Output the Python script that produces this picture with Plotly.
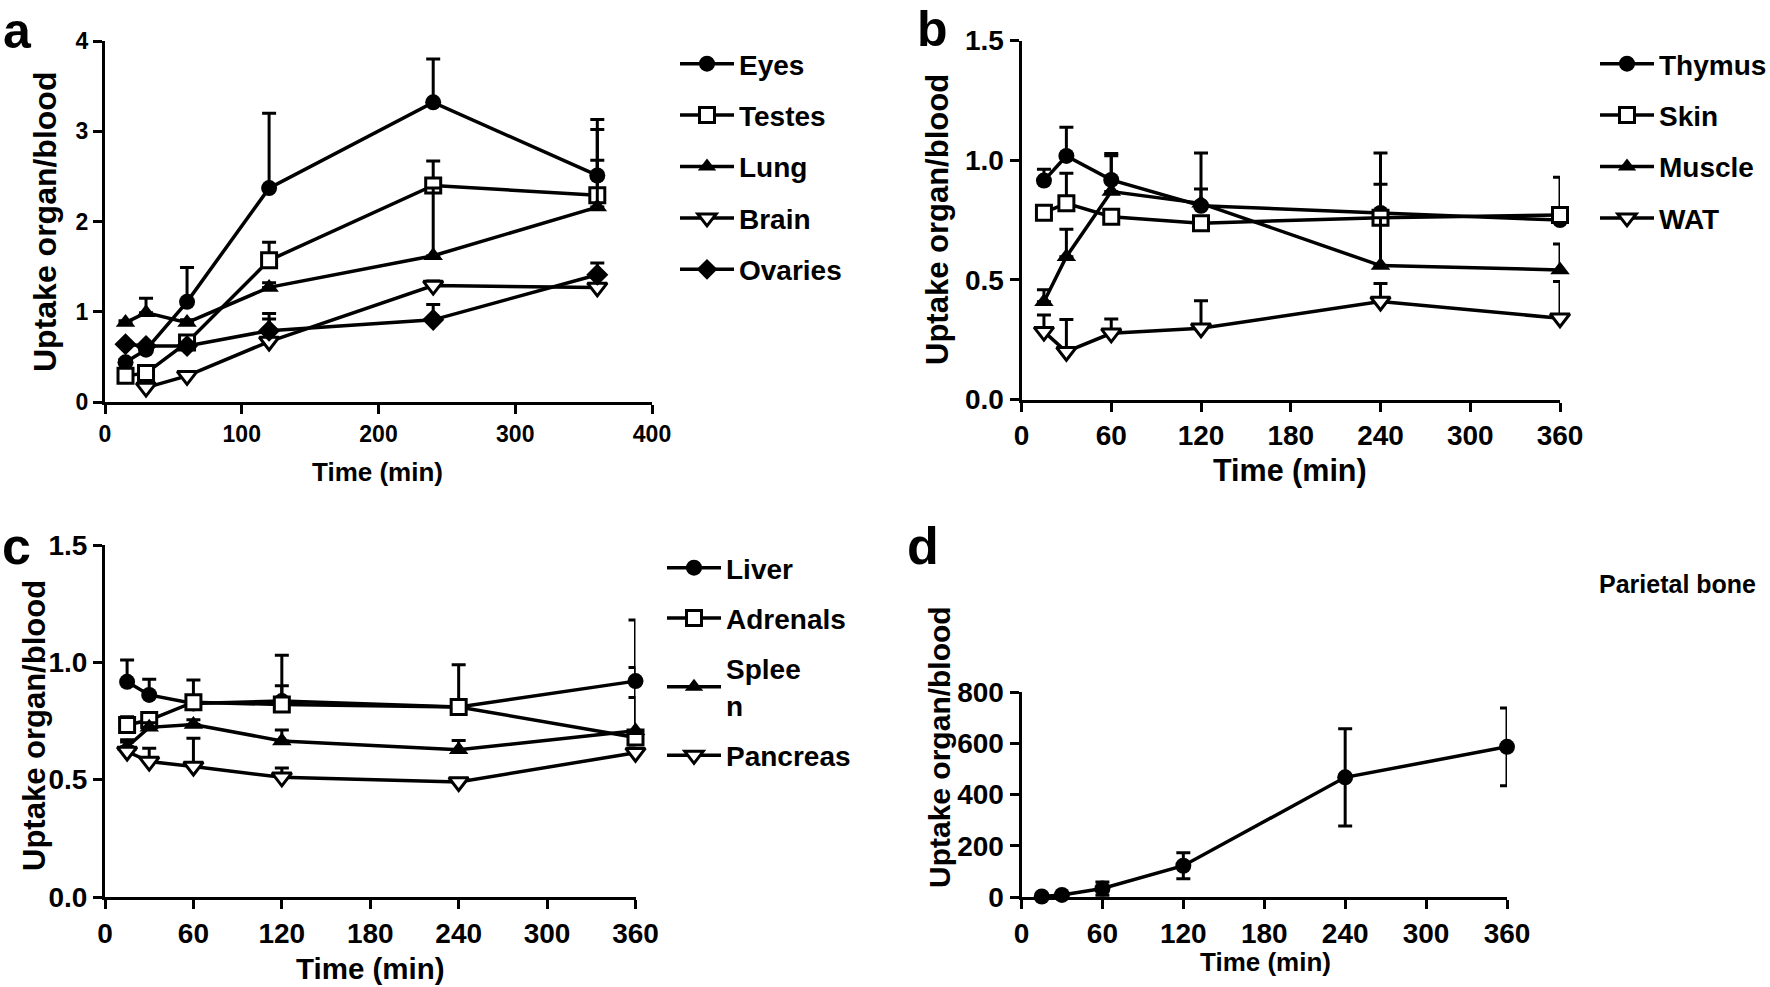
import plotly.graph_objects as go

# sampling times (min)
time = [15, 30, 60, 120, 240, 360]

# panel a
eyes = [0.44, 0.58, 1.11, 2.37, 3.32, 2.51]
eyes_sd = [0.03, 0.03, 0.38, 0.83, 0.48, 0.62]
testes = [0.29, 0.32, 0.66, 1.57, 2.40, 2.29]
testes_sd = [0.02, 0.02, 0.06, 0.20, 0.27, 0.39]
lung = [0.88, 0.99, 0.88, 1.27, 1.62, 2.16]
lung_sd = [0.02, 0.16, 0.03, 0.05, 0.75, 0.86]
brain = [None, 0.16, 0.29, 0.67, 1.29, 1.27]
brain_sd = [0, 0.02, 0.03, 0.25, 0.05, 0.03]
ovaries = [0.64, 0.62, 0.62, 0.79, 0.91, 1.41]
ovaries_sd = [0.01, 0.01, 0.02, 0.19, 0.17, 0.13]

# panel b
thymus = [0.915, 1.018, 0.918, 0.81, 0.78, 0.75]
thymus_sd = [0.047, 0.12, 0.11, 0.22, 0.25, 0.02]
skin = [0.781, 0.82, 0.764, 0.737, 0.76, 0.771]
skin_sd = [0.02, 0.126, 0.02, 0.02, 0.14, 0.158]
muscle = [0.409, 0.597, 0.869, 0.82, 0.56, 0.542]
muscle_sd = [0.05, 0.115, 0.15, 0.06, 0.2, 0.108]
wat = [0.284, 0.20, 0.277, 0.298, 0.41, 0.34]
wat_sd = [0.07, 0.135, 0.06, 0.115, 0.075, 0.153]

# panel c
liver = [0.917, 0.861, 0.825, 0.835, 0.81, 0.92]
liver_sd = [0.093, 0.067, 0.10, 0.195, 0.18, 0.26]
adrenals = [0.733, 0.754, 0.83, 0.82, 0.81, 0.68]
adrenals_sd = [0.035, 0.02, 0.02, 0.08, 0.02, 0.17]
spleen = [0.64, 0.723, 0.735, 0.665, 0.627, 0.708]
spleen_sd = [0.02, 0.02, 0.02, 0.047, 0.04, 0.27]
pancreas = [0.62, 0.577, 0.556, 0.51, 0.49, 0.615]
pancreas_sd = [0.05, 0.057, 0.12, 0.04, 0.01, 0.02]

# panel d
parietal = [2, 8, 33, 122, 467, 586]
parietal_sd = [2, 3, 26, 51, 190, 152]

W, H = 1770, 987
FONT = "Arial, Liberation Sans"
BOLD = dict(family=FONT, color="black", weight="bold")


def px_x(v):
    return v / W


def px_y(v):
    return 1 - v / H


fig = go.Figure()

styles = {
    "circle": dict(symbol="circle", size=16, color="black"),
    "square": dict(symbol="square", size=15, color="white", line=dict(color="black", width=3)),
    "tri": dict(symbol="triangle-up", size=17, color="black"),
    "tdown": dict(symbol="triangle-down", size=17, color="white", line=dict(color="black", width=3)),
    "diamond": dict(symbol="diamond", size=17, color="black"),
}


def add(name, y, sd, mk, xa, ya, legend, both=False, show=True):
    err = dict(type="data", array=sd, color="black", thickness=3, width=7, visible=True)
    if both:
        err["symmetric"] = True
    else:
        err["symmetric"] = False
        err["arrayminus"] = [0] * len(sd)
    fig.add_trace(go.Scatter(
        x=time, y=y, name=name, mode="lines+markers",
        line=dict(color="black", width=3.5),
        marker=styles[mk], error_y=err,
        xaxis=xa, yaxis=ya, legend=legend, legendgroup=name,
        showlegend=show, cliponaxis=False, connectgaps=True,
    ))


add("Eyes", eyes, eyes_sd, "circle", "x", "y", "legend")
add("Testes", testes, testes_sd, "square", "x", "y", "legend")
add("Lung", lung, lung_sd, "tri", "x", "y", "legend")
add("Brain", brain, brain_sd, "tdown", "x", "y", "legend")
add("Ovaries", ovaries, ovaries_sd, "diamond", "x", "y", "legend")

add("Thymus", thymus, thymus_sd, "circle", "x2", "y2", "legend2")
add("Skin", skin, skin_sd, "square", "x2", "y2", "legend2")
add("Muscle", muscle, muscle_sd, "tri", "x2", "y2", "legend2")
add("WAT", wat, wat_sd, "tdown", "x2", "y2", "legend2")

add("Liver", liver, liver_sd, "circle", "x3", "y3", "legend3")
add("Adrenals", adrenals, adrenals_sd, "square", "x3", "y3", "legend3")
add("Splee<br>n", spleen, spleen_sd, "tri", "x3", "y3", "legend3")
add("Pancreas", pancreas, pancreas_sd, "tdown", "x3", "y3", "legend3")

add("Parietal bone", parietal, parietal_sd, "circle", "x4", "y4", "legend", both=True, show=False)

axis_common = dict(
    showgrid=False, zeroline=False, showline=True, linecolor="black", linewidth=3,
    ticks="outside", ticklen=9, tickwidth=3, tickcolor="black", automargin=False,
)
tick_a = dict(size=23, **BOLD)
tick_b = dict(size=28, **BOLD)
min_ticks = [0, 60, 120, 180, 240, 300, 360]

fig.update_layout(
    width=W, height=H, margin=dict(l=0, r=0, t=0, b=0, autoexpand=False),
    paper_bgcolor="white", plot_bgcolor="white",
    font=dict(family=FONT, color="black"),
    xaxis=dict(domain=[px_x(105), px_x(652)], range=[0, 400], tickvals=[0, 100, 200, 300, 400],
               anchor="y", tickfont=tick_a, **axis_common),
    yaxis=dict(domain=[px_y(402), px_y(41)], range=[0, 4], tickvals=[0, 1, 2, 3, 4],
               anchor="x", tickfont=tick_a, **axis_common),
    xaxis2=dict(domain=[px_x(1021.5), px_x(1560)], range=[0, 360], tickvals=min_ticks,
                anchor="y2", tickfont=tick_b, **axis_common),
    yaxis2=dict(domain=[px_y(399.6), px_y(40.6)], range=[0, 1.5], tickvals=[0, 0.5, 1.0, 1.5], tickformat=".1f",
                anchor="x2", tickfont=tick_b, **axis_common),
    xaxis3=dict(domain=[px_x(105), px_x(635.5)], range=[0, 360], tickvals=min_ticks,
                anchor="y3", tickfont=tick_b, **axis_common),
    yaxis3=dict(domain=[px_y(897), px_y(545)], range=[0, 1.5], tickvals=[0, 0.5, 1.0, 1.5], tickformat=".1f",
                anchor="x3", tickfont=tick_b, **axis_common),
    xaxis4=dict(domain=[px_x(1021.5), px_x(1507)], range=[0, 360], tickvals=min_ticks,
                anchor="y4", tickfont=tick_b, **axis_common),
    yaxis4=dict(domain=[px_y(897), px_y(692)], range=[0, 800], tickvals=[0, 200, 400, 600, 800],
                anchor="x4", tickfont=tick_b, **axis_common),
)

leg_common = dict(xanchor="left", yanchor="top", bgcolor="rgba(0,0,0,0)", borderwidth=0,
                  font=dict(size=28, **BOLD), itemwidth=54)
fig.update_layout(
    legend=dict(x=px_x(675), y=px_y(39), tracegroupgap=12, **leg_common),
    legend2=dict(x=px_x(1595), y=px_y(39), tracegroupgap=12, **leg_common),
    legend3=dict(x=px_x(662), y=px_y(543), tracegroupgap=11, **leg_common),
)

# titles and panel letters
notes = [
    ("a", 17, 31, 0, 50), ("b", 932, 29, 0, 50), ("c", 16, 546, 0, 52), ("d", 923, 546, 0, 52),
    ("Time (min)", 377, 472, 0, 26), ("Time (min)", 1290, 470, 0, 30.5),
    ("Time (min)", 370, 968, 0, 29.5), ("Time (min)", 1265, 962, 0, 26),
    ("Uptake organ/blood", 45, 222, -90, 32), ("Uptake organ/blood", 937, 220, -90, 31),
    ("Uptake organ/blood", 34, 726, -90, 31), ("Uptake organ/blood", 939, 747, -90, 30),
]
for text, x, y, ang, size in notes:
    fig.add_annotation(text=text, x=px_x(x), y=px_y(y), xref="paper", yref="paper",
                       xanchor="center", yanchor="middle", textangle=ang, showarrow=False,
                       font=dict(size=size, **BOLD))

fig.add_annotation(text="Parietal bone", x=px_x(1597), y=px_y(584), xref="paper", yref="paper",
                   xanchor="left", yanchor="middle", showarrow=False, font=dict(size=25, **BOLD))

# drop the page's default body margin so the figure sits at the window corner
fig.write_html(
    "out.html",
    config={"displayModeBar": False},
    post_script="document.body.style.margin='0px';document.body.style.overflow='hidden';",
)
